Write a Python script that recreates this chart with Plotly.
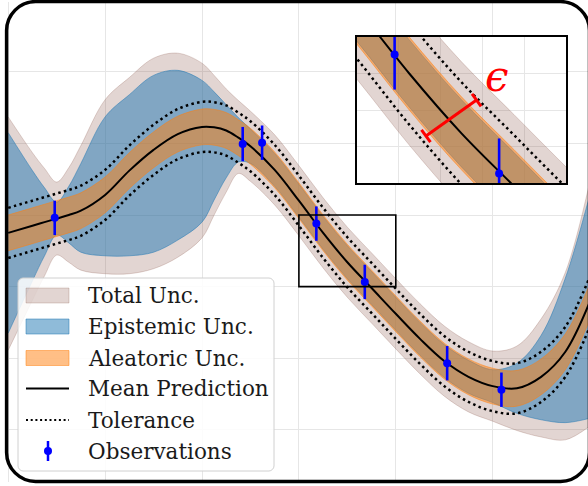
import plotly.graph_objects as go

# ---------------- data ----------------
x_grid = [0.0, 0.25, 0.375, 0.5, 0.625, 0.75, 1.0, 1.25, 1.5, 1.75, 2.0, 2.125, 2.25, 2.375, 2.5,
          2.75, 3.0, 3.25, 3.5, 3.75, 4.0, 4.25, 4.5, 4.75, 5.0, 5.25, 5.5, 5.75, 6.0]
mean_pred = [-0.25, -0.15, -0.10, -0.05, 0.00, 0.06, 0.28, 0.62, 0.91, 1.13, 1.23, 1.225, 1.18, 1.08, 0.96,
             0.63, 0.20, -0.25, -0.66, -1.02, -1.38, -1.73, -2.04, -2.26, -2.39, -2.42, -2.26, -1.91, -1.22]
total_upper = [1.37, 0.87, 0.65, 0.46, 0.66, 0.97, 1.61, 1.92, 2.19, 2.26, 2.12, 1.95, 1.76, 1.60, 1.45,
               1.12, 0.69, 0.24, -0.17, -0.53, -0.89, -1.24, -1.55, -1.77, -1.90, -1.83, -1.45, -0.80, 0.45]
total_lower = [-1.89, -1.19, -0.85, -0.56, -0.66, -0.77, -0.82, -0.82, -0.75, -0.59, -0.32, 0.00, 0.32, 0.58, 0.47,
               0.14, -0.29, -0.74, -1.15, -1.51, -1.87, -2.22, -2.53, -2.75, -2.88, -3.01, -3.10, -3.14, -2.95]
epi_upper = [1.15, 0.62, 0.38, 0.18, 0.40, 0.72, 1.37, 1.68, 1.95, 2.02, 1.88, 1.72, 1.54, 1.36, 1.20,
             0.86, 0.43, -0.02, -0.43, -0.79, -1.15, -1.50, -1.81, -2.03, -2.16, -2.07, -1.68, -0.88, 0.27]
epi_lower = [-1.65, -0.92, -0.57, -0.28, -0.39, -0.52, -0.57, -0.57, -0.52, -0.35, -0.10, 0.21, 0.52, 0.74, 0.72,
             0.40, -0.03, -0.48, -0.89, -1.25, -1.61, -1.96, -2.27, -2.49, -2.62, -2.77, -2.86, -2.90, -2.84]
alea_hw = 0.25
tolerance = 0.35

obs_x = [0.48, 2.42, 2.62, 3.18, 3.68, 4.53, 5.09]
obs_y = [-0.04, 0.99, 1.01, -0.12, -0.935, -2.07, -2.44]
obs_err = [0.24, 0.24, 0.24, 0.24, 0.24, 0.24, 0.24]

legend_names = ["Total Unc.", "Epistemic Unc.", "Aleatoric Unc.",
                "Mean Prediction", "Tolerance", "Observations"]

zoom_x = [3.0, 4.0]
zoom_y = [-1.0, 0.0]

# ---------------- styling ----------------
W, H = 588, 486
ML, MR, MT, MB = 7, 0, 2, 4
PX_PER_X, PX_PER_Y = 96.9, 71.6
X0_PX, Y0_PX = 8.2, 215.0          # pixel of x=0 and y=0

x_range = [(ML - X0_PX) / PX_PER_X, (W - MR - X0_PX) / PX_PER_X]
y_range = [(Y0_PX - (H - MB)) / PX_PER_Y, (Y0_PX - MT) / PX_PER_Y]

C_TOTAL = "rgba(140,86,75,0.25)"
C_EPI = "rgba(31,119,180,0.5)"
C_ALEA = "rgba(255,127,14,0.5)"
BLUE = "#0000ff"
GRID = "#e6e6e6"
FONT = "DejaVu Serif"

PW, PH = W - ML - MR, H - MT - MB
def px2paper_x(p):
    return (p - ML) / PW
def px2paper_y(p):
    return (H - MB - p) / PH


def add_traces(fig, xa, ya):
    kw = dict(xaxis=xa, yaxis=ya, showlegend=False, hoverinfo="skip")
    alea_up = [m + alea_hw for m in mean_pred]
    alea_lo = [m - alea_hw for m in mean_pred]
    for lo, up, col, nm in ((total_lower, total_upper, C_TOTAL, legend_names[0]),
                            (epi_lower, epi_upper, C_EPI, legend_names[1]),
                            (alea_lo, alea_up, C_ALEA, legend_names[2])):
        fig.add_trace(go.Scatter(x=x_grid, y=lo, mode="lines",
                                 line=dict(color=col, width=1, shape="spline"), name=nm, **kw))
        fig.add_trace(go.Scatter(x=x_grid, y=up, mode="lines", fill="tonexty", fillcolor=col,
                                 line=dict(color=col, width=1, shape="spline"), name=nm, **kw))
    fig.add_trace(go.Scatter(x=x_grid, y=mean_pred, mode="lines",
                             line=dict(color="black", width=2, shape="spline"),
                             name=legend_names[3], **kw))
    tx = x_grid + [None] + x_grid
    ty = [m + tolerance for m in mean_pred] + [None] + [m - tolerance for m in mean_pred]
    fig.add_trace(go.Scatter(x=tx, y=ty, mode="lines",
                             line=dict(color="black", width=2.5, dash="2.5px,3.3px", shape="spline"),
                             name=legend_names[4], **kw))
    fig.add_trace(go.Scatter(x=obs_x, y=obs_y, mode="markers",
                             marker=dict(color=BLUE, size=8),
                             error_y=dict(type="data", array=obs_err, color=BLUE,
                                          thickness=2.6, width=0),
                             name=legend_names[5], **kw))


fig = go.Figure()
add_traces(fig, "x", "y")
add_traces(fig, "x2", "y2")

ins_dx = [px2paper_x(357), px2paper_x(566)]
ins_dy = [px2paper_y(183), px2paper_y(37)]

axis_common = dict(showticklabels=False, ticks="", zeroline=False, showgrid=True,
                   gridcolor=GRID, gridwidth=1)
fig.update_layout(
    width=W, height=H,
    margin=dict(l=ML, r=MR, t=MT, b=MB, pad=0),
    paper_bgcolor="white", plot_bgcolor="white",
    xaxis=dict(range=x_range, dtick=1, tick0=0, showline=False, **axis_common),
    yaxis=dict(range=y_range, dtick=1, tick0=0, showline=False, **axis_common),
    xaxis2=dict(domain=ins_dx, anchor="y2", range=zoom_x, dtick=0.2, tick0=3,
                showline=True, mirror=True, linecolor="black", linewidth=2, **axis_common),
    yaxis2=dict(domain=ins_dy, anchor="x2", range=zoom_y, dtick=0.25, tick0=0,
                showline=True, mirror=True, linecolor="black", linewidth=2, **axis_common),
    showlegend=False,
)

# zoom rectangle in the main axes
fig.add_shape(type="rect", xref="x", yref="y", x0=zoom_x[0], x1=zoom_x[1],
              y0=zoom_y[0], y1=zoom_y[1], line=dict(color="black", width=1.6))

# epsilon annotation inside the inset
eps_a = (3.330, -0.678)
eps_b = (3.572, -0.432)
cap = (0.0215, -0.0425)
red = dict(color="#ff0000", width=3)
fig.add_shape(type="line", xref="x2", yref="y2", x0=eps_a[0], y0=eps_a[1],
              x1=eps_b[0], y1=eps_b[1], line=red)
for ex, ey in (eps_a, eps_b):
    fig.add_shape(type="line", xref="x2", yref="y2", x0=ex - cap[0], y0=ey - cap[1],
                  x1=ex + cap[0], y1=ey + cap[1], line=red)
fig.add_annotation(xref="x2", yref="y2", x=3.67, y=-0.27, text="<i>ϵ</i>", showarrow=False,
                   font=dict(family=FONT, size=42, color="#ff0000"))


def rr_path(x0, y0, x1, y1, r, k=0.45):
    fx, fy = px2paper_x, px2paper_y
    return (f"M{fx(x0 + r)},{fy(y0)} L{fx(x1 - r)},{fy(y0)} "
            f"C{fx(x1 - r * k)},{fy(y0)} {fx(x1)},{fy(y0 + r * k)} {fx(x1)},{fy(y0 + r)} "
            f"L{fx(x1)},{fy(y1 - r)} "
            f"C{fx(x1)},{fy(y1 - r * k)} {fx(x1 - r * k)},{fy(y1)} {fx(x1 - r)},{fy(y1)} "
            f"L{fx(x0 + r)},{fy(y1)} "
            f"C{fx(x0 + r * k)},{fy(y1)} {fx(x0)},{fy(y1 - r * k)} {fx(x0)},{fy(y1 - r)} "
            f"L{fx(x0)},{fy(y0 + r)} "
            f"C{fx(x0)},{fy(y0 + r * k)} {fx(x0 + r * k)},{fy(y0)} {fx(x0 + r)},{fy(y0)} Z")


# ---------------- legend (drawn like the matplotlib one) ----------------
fig.add_shape(type="path", xref="paper", yref="paper", path=rr_path(18, 278, 274, 471, 5, 0.5),
              fillcolor="rgba(255,255,255,0.85)", line=dict(color="#d0d0d0", width=1), layer="above")
row_y = [295.5, 326.5, 358, 388.5, 420, 451]
sw_x0, sw_x1, txt_x = 26, 69, 86
for i, col in enumerate((C_TOTAL, C_EPI, C_ALEA)):
    fig.add_shape(type="rect", xref="paper", yref="paper",
                  x0=px2paper_x(sw_x0), x1=px2paper_x(sw_x1),
                  y0=px2paper_y(row_y[i] - 7.5), y1=px2paper_y(row_y[i] + 7.5),
                  fillcolor=col, line=dict(color=col, width=1), layer="above")
fig.add_shape(type="line", xref="paper", yref="paper", x0=px2paper_x(sw_x0), x1=px2paper_x(sw_x1),
              y0=px2paper_y(row_y[3]), y1=px2paper_y(row_y[3]),
              line=dict(color="black", width=2), layer="above")
fig.add_shape(type="line", xref="paper", yref="paper", x0=px2paper_x(sw_x0), x1=px2paper_x(sw_x1),
              y0=px2paper_y(row_y[4]), y1=px2paper_y(row_y[4]),
              line=dict(color="black", width=2, dash="2px,2.7px"), layer="above")
cx = (sw_x0 + sw_x1) / 2 + 0.5
fig.add_shape(type="line", xref="paper", yref="paper", x0=px2paper_x(cx), x1=px2paper_x(cx),
              y0=px2paper_y(row_y[5] - 10), y1=px2paper_y(row_y[5] + 10),
              line=dict(color=BLUE, width=2.5), layer="above")
fig.add_shape(type="circle", xref="paper", yref="paper", x0=px2paper_x(cx - 4), x1=px2paper_x(cx + 4),
              y0=px2paper_y(row_y[5] - 4), y1=px2paper_y(row_y[5] + 4),
              fillcolor=BLUE, line=dict(color=BLUE, width=0), layer="above")
for name, yy in zip(legend_names, row_y):
    fig.add_annotation(xref="paper", yref="paper", x=px2paper_x(txt_x), y=px2paper_y(yy),
                       xanchor="left", yanchor="middle", text=name, showarrow=False,
                       font=dict(family=FONT, size=21.5, color="#1a1a1a"))

# rounded outer frame
fig.add_shape(type="path", xref="paper", yref="paper", path=rr_path(6.6, 1.6, 589.5, 481.4, 29),
              line=dict(color="black", width=3.5), layer="above")

fig.write_html("out.html", config={"displayModeBar": False, "staticPlot": True},
               post_script="document.body.style.margin='0px';document.body.style.overflow='hidden';")
